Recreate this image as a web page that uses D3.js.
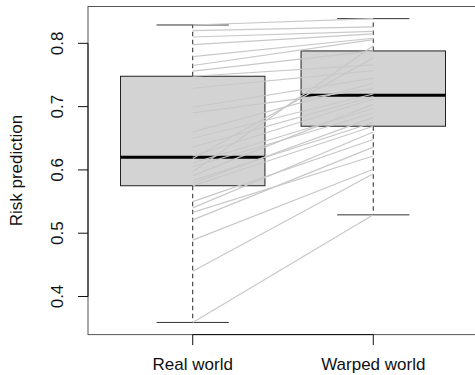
<!DOCTYPE html>
<html>
<head>
<meta charset="utf-8">
<script src="https://cdn.jsdelivr.net/npm/d3@7"></script>
<style>
  body { margin: 0; background: #fff; }
  svg { display: block; }
  text { font-family: "Liberation Sans", Arial, Helvetica, sans-serif; font-size: 17px; fill: #111; }
</style>
</head>
<body>
<svg id="chart" width="475" height="375"></svg>
<script>
// Paired risk predictions: realWorld[i] and warpedWorld[i] belong to the same case.
const groups = ["Real world", "Warped world"];
const realWorld = [
  0.359, 0.440, 0.489, 0.521, 0.533, 0.540, 0.550, 0.575, 0.579, 0.583,
  0.591, 0.597, 0.605, 0.611, 0.618, 0.622, 0.636, 0.650, 0.660, 0.690,
  0.699, 0.729, 0.748, 0.756, 0.765, 0.779, 0.798, 0.810, 0.820, 0.829
];
const warpedWorld = [
  0.529, 0.594, 0.601, 0.636, 0.622, 0.660, 0.648, 0.669, 0.683, 0.675,
  0.704, 0.796, 0.690, 0.697, 0.777, 0.712, 0.716, 0.720, 0.737, 0.728,
  0.745, 0.757, 0.766, 0.788, 0.806, 0.808, 0.815, 0.819, 0.826, 0.839
];
const yTicks = [0.4, 0.5, 0.6, 0.7, 0.8];
const yTitle = "Risk prediction";

// Tukey five-number summary (min, hinges, median, max)
function fivenum(values) {
  const s = values.slice().sort(d3.ascending);
  const m = s.length;
  const m4 = Math.floor((m + 3) / 2) / 2;
  const d = [1, m4, (m + 1) / 2, m + 1 - m4, m];
  return d.map(v => 0.5 * (s[Math.floor(v) - 1] + s[Math.ceil(v) - 1]));
}
function boxStats(values) {
  const f = fivenum(values);
  const iqr = f[3] - f[1];
  const lo = d3.min(values.filter(v => v >= f[1] - 1.5 * iqr));
  const hi = d3.max(values.filter(v => v <= f[3] + 1.5 * iqr));
  return { lo, q1: f[1], med: f[2], q3: f[3], hi };
}
const series = [realWorld, warpedWorld];
const stats = series.map(boxStats);

// plot region
const plotLeft = 88, plotRight = 478, plotTop = 6.5, plotBottom = 334.6;
const nGroups = groups.length;
const x = d3.scaleLinear()
  .domain([0.5 - 0.04 * nGroups, nGroups + 0.5 + 0.04 * nGroups])
  .range([plotLeft, plotRight]);
const ext = d3.extent(realWorld.concat(warpedWorld));
const pad = (ext[1] - ext[0]) * 0.04;
const y = d3.scaleLinear()
  .domain([ext[0] - pad, ext[1] + pad])
  .range([plotBottom, plotTop]);

const svg = d3.select("#chart");
const boxHalf = x(1.4) - x(1);    // box width 0.8
const stapleHalf = x(1.2) - x(1); // staple width 0.4

// boxes
const g = svg.append("g");
stats.forEach((s, i) => {
  const cx = x(i + 1);
  // dashed whiskers
  g.append("line").attr("x1", cx).attr("x2", cx).attr("y1", y(s.q3)).attr("y2", y(s.hi))
    .attr("stroke", "#222").attr("stroke-dasharray", "4.5,3.5");
  g.append("line").attr("x1", cx).attr("x2", cx).attr("y1", y(s.q1)).attr("y2", y(s.lo))
    .attr("stroke", "#222").attr("stroke-dasharray", "4.5,3.5");
  // staples
  [s.hi, s.lo].forEach(v => {
    g.append("line").attr("x1", cx - stapleHalf).attr("x2", cx + stapleHalf)
      .attr("y1", y(v)).attr("y2", y(v)).attr("stroke", "#333");
  });
  // box
  g.append("rect")
    .attr("x", cx - boxHalf).attr("width", 2 * boxHalf)
    .attr("y", y(s.q3)).attr("height", y(s.q1) - y(s.q3))
    .attr("fill", "#d3d3d3").attr("stroke", "#222");
  // median
  g.append("line").attr("x1", cx - boxHalf).attr("x2", cx + boxHalf)
    .attr("y1", y(s.med)).attr("y2", y(s.med))
    .attr("stroke", "#000").attr("stroke-width", 3);
});

// frame
svg.append("rect").attr("x", plotLeft).attr("y", plotTop)
  .attr("width", plotRight - plotLeft).attr("height", plotBottom - plotTop)
  .attr("fill", "none").attr("stroke", "#555");

// y axis
const ya = svg.append("g");
ya.append("line").attr("x1", plotLeft).attr("x2", plotLeft)
  .attr("y1", y(yTicks[0])).attr("y2", y(yTicks[yTicks.length - 1])).attr("stroke", "#111");
yTicks.forEach(t => {
  ya.append("line").attr("x1", plotLeft - 10).attr("x2", plotLeft)
    .attr("y1", y(t)).attr("y2", y(t)).attr("stroke", "#111");
  ya.append("text")
    .attr("transform", `translate(63,${y(t)}) rotate(-90)`)
    .attr("text-anchor", "middle")
    .text(t.toFixed(1));
});
svg.append("text")
  .attr("transform", `translate(22,${(plotTop + plotBottom) / 2}) rotate(-90)`)
  .attr("text-anchor", "middle")
  .text(yTitle);

// x axis
const xa = svg.append("g");
xa.append("line").attr("x1", x(1)).attr("x2", x(nGroups))
  .attr("y1", plotBottom).attr("y2", plotBottom).attr("stroke", "#111");
groups.forEach((name, i) => {
  xa.append("line").attr("x1", x(i + 1)).attr("x2", x(i + 1))
    .attr("y1", plotBottom).attr("y2", plotBottom + 10.5).attr("stroke", "#111");
  xa.append("text").attr("x", x(i + 1)).attr("y", 370)
    .attr("text-anchor", "middle").text(name);
});

// paired connections drawn over the boxes
svg.append("g").selectAll("line")
  .data(realWorld.map((r, i) => [r, warpedWorld[i]]))
  .join("line")
  .attr("x1", x(1)).attr("x2", x(2))
  .attr("y1", d => y(d[0])).attr("y2", d => y(d[1]))
  .attr("stroke", "#c8c8c8").attr("stroke-width", 1.2);
</script>
</body>
</html>
